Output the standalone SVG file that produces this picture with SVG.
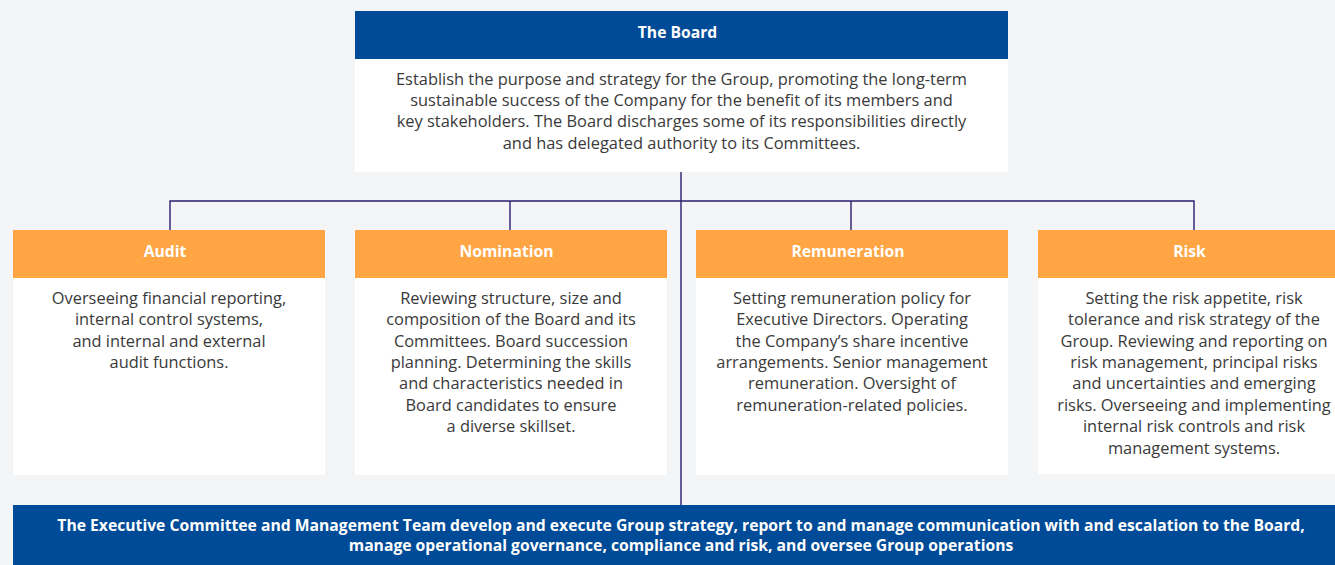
<svg xmlns="http://www.w3.org/2000/svg" width="1335" height="565" viewBox="0 0 1335 565">
<style>
.bg{fill:#F4F5F7}
.blue{fill:#004B97}
.orange{fill:#FFA544}
.white{fill:#FFFFFF}
.title{font-family:"Open Sans","Liberation Sans",sans-serif;font-weight:700;font-size:15.7px;fill:#FFFFFF;text-anchor:middle}
.body{font-family:"Open Sans","Liberation Sans",sans-serif;font-size:16.4px;fill:#3A3A3A;text-anchor:middle}
.bar{font-family:"Open Sans","Liberation Sans",sans-serif;font-weight:700;font-size:15.7px;fill:#FFFFFF;text-anchor:middle}
.conn{stroke:#2B1C6B;stroke-width:1.4;fill:none}
</style>
<rect class="bg" x="0" y="0" width="1335" height="565"/>
<g id="connectors">
<path class="conn" d="M681,172 V505"/>
<path class="conn" d="M170,230 V201 H1194 V230"/>
<path class="conn" d="M510,201 V230"/>
<path class="conn" d="M851,201 V230"/>
</g>
<g id="board">
<rect class="blue" x="355" y="11" width="653" height="48"/>
<rect class="white" x="355" y="59" width="653" height="113"/>
<text class="title" x="677.5" y="37.5">The Board</text>
<text class="body" x="681.5" y="84.5">Establish the purpose and strategy for the Group, promoting the long-term</text>
<text class="body" x="681.5" y="105.5">sustainable success of the Company for the benefit of its members and</text>
<text class="body" x="681.5" y="127">key stakeholders. The Board discharges some of its responsibilities directly</text>
<text class="body" x="681.5" y="148.5">and has delegated authority to its Committees.</text>
</g>
<g id="audit">
<rect class="orange" x="13" y="230" width="312" height="48"/>
<rect class="white" x="13" y="278" width="312" height="197"/>
<text class="title" x="165" y="256.5">Audit</text>
<text class="body" x="169" y="304">Overseeing financial reporting,</text>
<text class="body" x="169" y="325">internal control systems,</text>
<text class="body" x="169" y="346.5">and internal and external</text>
<text class="body" x="169" y="368">audit functions.</text>
</g>
<g id="nomination">
<rect class="orange" x="355" y="230" width="312" height="48"/>
<rect class="white" x="355" y="278" width="312" height="197"/>
<text class="title" x="506.5" y="256.5">Nomination</text>
<text class="body" x="511" y="304">Reviewing structure, size and</text>
<text class="body" x="511" y="325">composition of the Board and its</text>
<text class="body" x="511" y="346.5">Committees. Board succession</text>
<text class="body" x="511" y="368">planning. Determining the skills</text>
<text class="body" x="511" y="389">and characteristics needed in</text>
<text class="body" x="511" y="410.5">Board candidates to ensure</text>
<text class="body" x="511" y="432">a diverse skillset.</text>
</g>
<g id="remuneration">
<rect class="orange" x="696" y="230" width="312" height="48"/>
<rect class="white" x="696" y="278" width="312" height="197"/>
<text class="title" x="848" y="256.5">Remuneration</text>
<text class="body" x="852" y="304">Setting remuneration policy for</text>
<text class="body" x="852" y="325">Executive Directors. Operating</text>
<text class="body" x="852" y="346.5">the Company’s share incentive</text>
<text class="body" x="852" y="368">arrangements. Senior management</text>
<text class="body" x="852" y="389">remuneration. Oversight of</text>
<text class="body" x="852" y="410.5">remuneration-related policies.</text>
</g>
<g id="risk">
<rect class="orange" x="1038" y="230" width="312" height="48"/>
<rect class="white" x="1038" y="278" width="312" height="196"/>
<text class="title" x="1189.5" y="256.5">Risk</text>
<text class="body" x="1194" y="304">Setting the risk appetite, risk</text>
<text class="body" x="1194" y="325">tolerance and risk strategy of the</text>
<text class="body" x="1194" y="346.5">Group. Reviewing and reporting on</text>
<text class="body" x="1194" y="368">risk management, principal risks</text>
<text class="body" x="1194" y="389">and uncertainties and emerging</text>
<text class="body" x="1194" y="410.5">risks. Overseeing and implementing</text>
<text class="body" x="1194" y="432">internal risk controls and risk</text>
<text class="body" x="1194" y="453.5">management systems.</text>
</g>
<g id="executive">
<rect class="blue" x="13" y="505" width="1337" height="60"/>
<text class="bar" x="681" y="530.5">The Executive Committee and Management Team develop and execute Group strategy, report to and manage communication with and escalation to the Board,</text>
<text class="bar" x="681" y="550.5">manage operational governance, compliance and risk, and oversee Group operations</text>
</g>
</svg>
